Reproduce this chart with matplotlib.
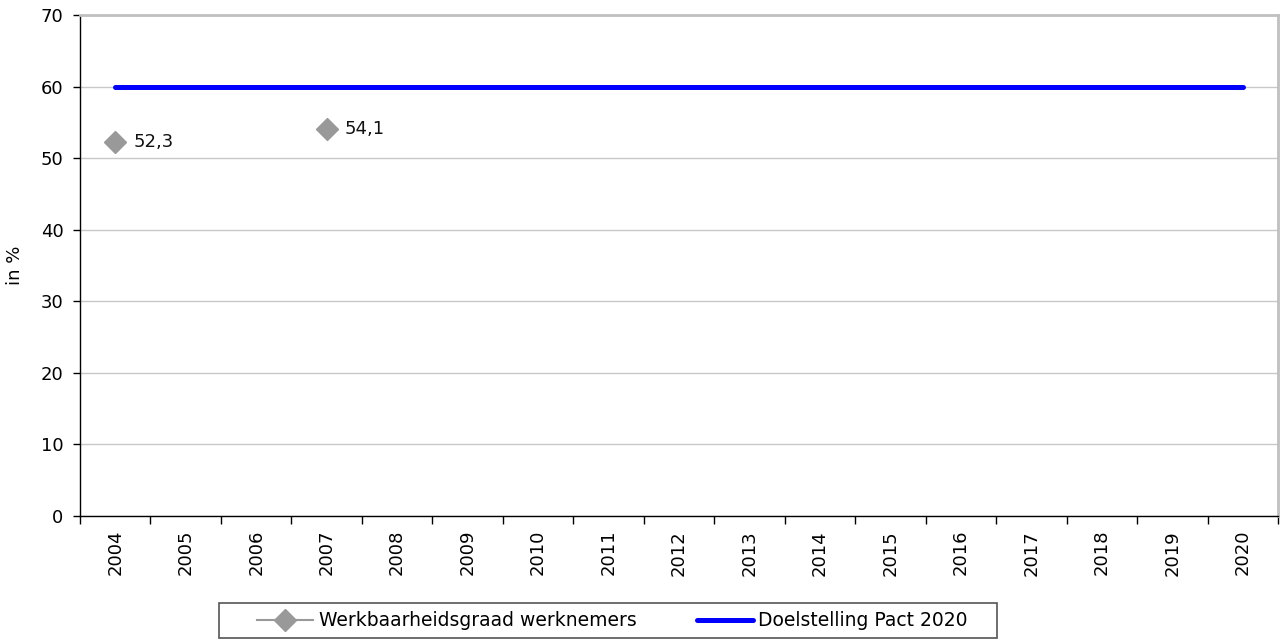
import matplotlib.pyplot as plt
from matplotlib.patches import Rectangle
import numpy as np

plt.rcParams['font.family'] = ['DejaVu Sans']

years = [str(y) for y in range(2004, 2021)]
werkbaarheid = [52.3, np.nan, np.nan, 54.1] + [np.nan] * 13
doelstelling = [60] * 17
werk_labels = ["52,3", "", "", "54,1"] + [""] * 13

W, H = 1280, 639
fig = plt.figure(figsize=(W / 100, H / 100), dpi=100)
ax = fig.add_axes([80 / W, 1 - 516 / H, 1198 / W, 501 / H])

x = np.arange(len(years))
ax.plot(x, werkbaarheid, color='#999999', marker='D', markersize=11, lw=1.5,
        label='Werkbaarheidsgraad werknemers')
ax.plot(x, doelstelling, color='#0000ff', lw=3.6, solid_capstyle='round',
        label='Doelstelling Pact 2020')

for xi, v, t in zip(x, werkbaarheid, werk_labels):
    if t:
        ax.annotate(t, (xi, v), xytext=(13, 0), textcoords='offset points',
                    va='center', ha='left', fontsize=13, color='#111111')

ax.set_xlim(-0.5, len(years) - 0.5)
ax.set_ylim(0, 70)
ax.set_yticks(range(0, 71, 10))
ax.tick_params(axis='y', labelsize=13, length=5, width=1, direction='out', pad=7)
ax.set_xticks(x)
ax.set_xticklabels(years, rotation=90, fontsize=13)
ax.set_xticks(np.arange(-0.5, len(years), 1), minor=True)
ax.tick_params(axis='x', which='major', length=0, pad=10)
ax.tick_params(axis='x', which='minor', length=6, width=1, direction='out')
ax.set_ylabel('in %', fontsize=13, labelpad=12)

ax.grid(axis='y', color='#c8c8c8', lw=1)
ax.set_axisbelow(True)
for s in ['top', 'right']:
    ax.spines[s].set_color('#c0c0c0')
    ax.spines[s].set_linewidth(2)
for s in ['left', 'bottom']:
    ax.spines[s].set_color('black')
    ax.spines[s].set_linewidth(1)

# legend frame drawn separately, legend itself frameless
fig.patches.append(Rectangle((219 / W, 1 - 638 / H), 778 / W, 35 / H,
                             transform=fig.transFigure, facecolor='white',
                             edgecolor='#555555', lw=1.2))
leg = fig.legend(loc='center left', bbox_to_anchor=(257 / W, 1 - 621 / H),
                 ncol=2, frameon=False, fontsize=13.5,
                 handlelength=3.0, handletextpad=0.3, columnspacing=3.2,
                 borderpad=0, borderaxespad=0)

fig.savefig('out.png', dpi=100)
